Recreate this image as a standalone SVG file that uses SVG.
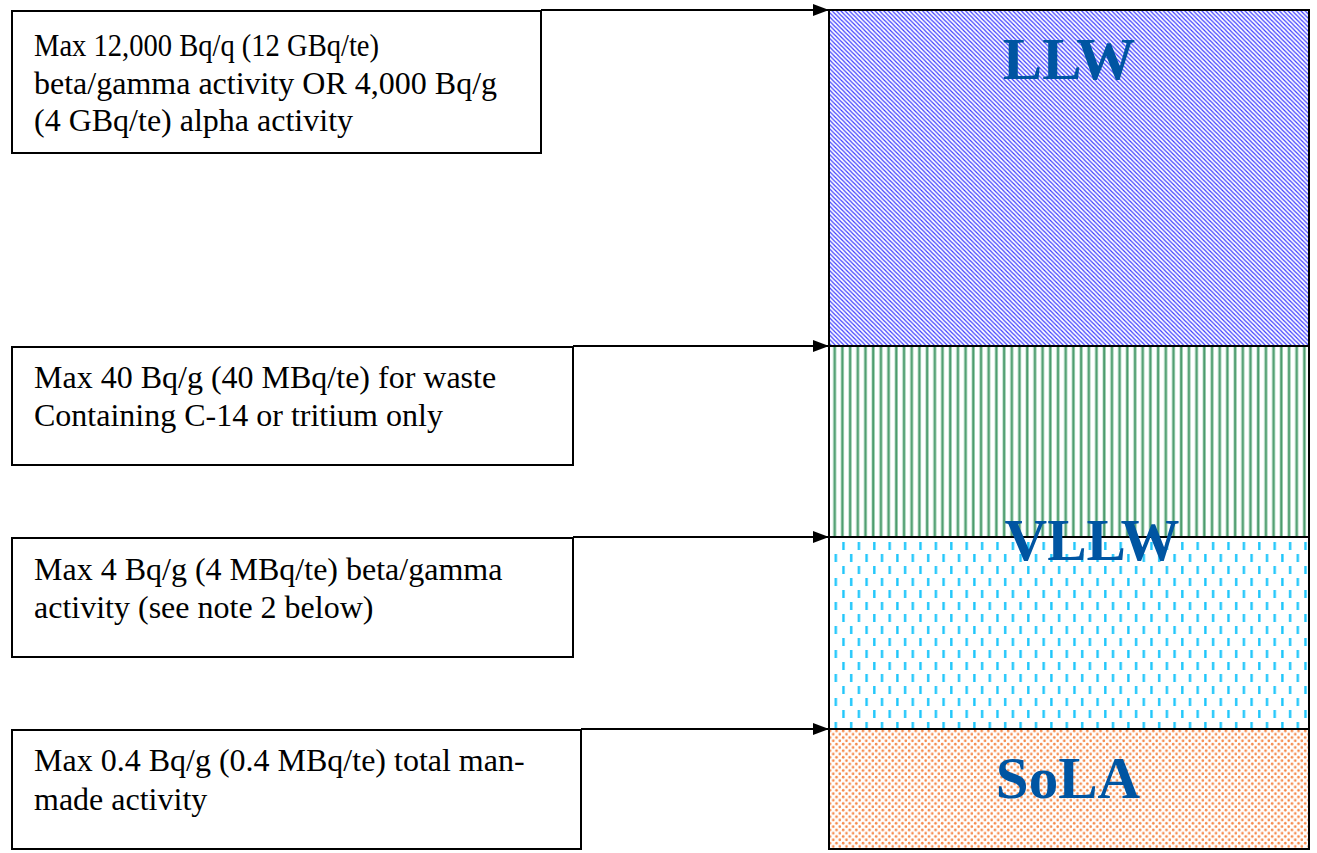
<svg xmlns="http://www.w3.org/2000/svg" width="1317" height="853" viewBox="0 0 1317 853">
<style>
.box{fill:#fff;stroke:#000;stroke-width:2}
.txt{font-family:"Liberation Serif","Times New Roman",serif;font-size:32px;fill:#000}
.lbl{font-family:"Liberation Serif","Times New Roman",serif;font-size:59px;font-weight:bold;fill:#0055a2;text-anchor:middle}
.conn{stroke:#000;stroke-width:2;fill:none;marker-end:url(#arr)}
.band{stroke:#000;stroke-width:2}
</style>
<defs>
<marker id="arr" viewBox="0 0 16 12" refX="16" refY="6" markerWidth="16" markerHeight="12" markerUnits="userSpaceOnUse" orient="auto">
<path d="M0,0 L16,6 L0,12 Z" fill="#000"/>
</marker>
<pattern id="pLLW" width="4.3" height="4.3" patternUnits="userSpaceOnUse">
<rect width="4.3" height="4.3" fill="#fff"/>
<path d="M-1,-1 L5.3,5.3 M-1,3.3 L1,5.3 M3.3,-1 L5.3,1" stroke="#3c3cff" stroke-width="1.2"/>
</pattern>
<pattern id="pC14" width="7.7" height="10" patternUnits="userSpaceOnUse">
<rect width="7.7" height="10" fill="#fff"/>
<rect x="1.5" y="0" width="3.2" height="10" fill="#9fd2b4"/>
<rect x="2.2" y="0" width="1.8" height="10" fill="#4b9a6c"/>
</pattern>
<pattern id="pVLLW" width="15.4" height="24" patternUnits="userSpaceOnUse">
<rect width="15.4" height="24" fill="#fff"/>
<rect x="3" y="2" width="2.4" height="8" fill="#1ec6fb"/>
<rect x="10.7" y="14" width="2.4" height="8" fill="#1ec6fb"/>
</pattern>
<pattern id="pSoLA" width="6.6" height="6.6" patternUnits="userSpaceOnUse">
<rect width="6.6" height="6.6" fill="#fff"/>
<circle cx="1.65" cy="1.65" r="1.3" fill="#f5894a"/>
<circle cx="4.95" cy="4.95" r="1.3" fill="#f5894a"/>
</pattern>
</defs>

<g id="bands">
<rect class="band" x="829" y="10" width="480" height="336" fill="url(#pLLW)"/>
<rect class="band" x="829" y="346" width="480" height="191" fill="url(#pC14)"/>
<rect class="band" x="829" y="537" width="480" height="192" fill="url(#pVLLW)"/>
<rect class="band" x="829" y="729" width="480" height="120" fill="url(#pSoLA)"/>
</g>

<g id="labels">
<text class="lbl" x="1069" y="79">LLW</text>
<text class="lbl" x="1092" y="560">VLLW</text>
<text class="lbl" x="1068" y="798">SoLA</text>
</g>

<g id="node1">
<rect class="box" x="12" y="11" width="529" height="142"/>
<text class="txt" x="34" y="56" textLength="345" lengthAdjust="spacingAndGlyphs">Max 12,000 Bq/q (12 GBq/te)</text>
<text class="txt" x="34" y="94">beta/gamma activity OR 4,000 Bq/g</text>
<text class="txt" x="34" y="131">(4 GBq/te) alpha activity</text>
</g>
<g id="node2">
<rect class="box" x="12" y="347" width="561" height="118"/>
<text class="txt" x="34" y="388">Max 40 Bq/g (40 MBq/te) for waste</text>
<text class="txt" x="34" y="426">Containing C-14 or tritium only</text>
</g>
<g id="node3">
<rect class="box" x="12" y="538" width="561" height="119"/>
<text class="txt" x="34" y="580">Max 4 Bq/g (4 MBq/te) beta/gamma</text>
<text class="txt" x="34" y="618">activity (see note 2 below)</text>
</g>
<g id="node4">
<rect class="box" x="12" y="730" width="569" height="119"/>
<text class="txt" x="34" y="771">Max 0.4 Bq/g (0.4 MBq/te) total man-</text>
<text class="txt" x="34" y="810">made activity</text>
</g>

<g id="connectors">
<line class="conn" x1="541" y1="10" x2="829" y2="10"/>
<line class="conn" x1="573" y1="346" x2="829" y2="346"/>
<line class="conn" x1="573" y1="537" x2="829" y2="537"/>
<line class="conn" x1="581" y1="729" x2="829" y2="729"/>
</g>
</svg>
